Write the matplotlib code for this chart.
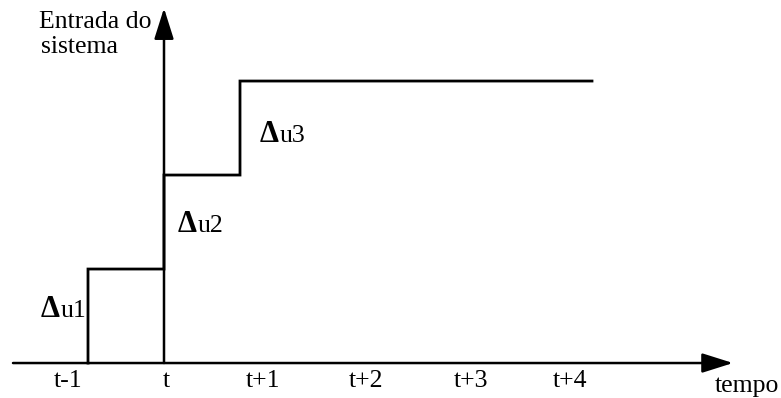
import matplotlib
matplotlib.use("Agg")
import matplotlib.pyplot as plt

# Instants on the time axis and their labels
tick_labels = ["t-1", "t", "t+1", "t+2", "t+3", "t+4"]
tick_pos = [-0.96, 0.02, 0.99, 2.02, 3.07, 4.06]

# Input staircase: switching instants and the level held after each one
step_x = [-0.76, 0.0, 0.76]
step_levels = [1, 2, 3]
step_end = 4.28

# Increment labels (symbol + name), anchored at the left baseline
delta_names = ["u1", "u2", "u3"]
delta_pos = [(-1.23, 0.489), (0.14, 1.394), (0.96, 2.351)]

plt.rcParams["font.family"] = ["Liberation Serif", "DejaVu Serif"]

FS = 18.5

fig = plt.figure(figsize=(7.81, 3.98), dpi=100)
ax = fig.add_axes([0, 0, 1, 1])
ax.set_xlim(-1.64, 6.17)
ax.set_ylim(-0.372, 3.862)
ax.axis("off")

# Staircase signal
xs = [step_x[0], step_x[0]]
ys = [0, step_levels[0]]
for i in range(1, len(step_x)):
    xs += [step_x[i], step_x[i]]
    ys += [step_levels[i - 1], step_levels[i]]
xs.append(step_end)
ys.append(step_levels[-1])
ax.plot(xs, ys, color="black", lw=2.0, solid_joinstyle="miter", zorder=3,
        snap=False)

# Axes with arrow heads
arrow = dict(arrowstyle="-|>,head_length=1.9,head_width=0.6", lw=1.8,
             color="black", mutation_scale=10, shrinkA=0, shrinkB=0,
             snap=False)
ax.annotate("", xy=(5.69, 0), xytext=(-1.51, 0), arrowprops=arrow, zorder=4)
ax.annotate("", xy=(0, 3.775), xytext=(0, 0), arrowprops=arrow, zorder=4)

# Tick labels
for p, lab in zip(tick_pos, tick_labels):
    ax.text(p, -0.191, lab, fontsize=FS, ha="center", va="center")
ax.text(5.51, -0.245, "tempo", fontsize=FS, ha="left", va="center")

# Axis title
ax.text(-1.25, 3.564, "Entrada do", fontsize=FS, ha="left", va="baseline")
ax.text(-1.23, 3.298, "sistema", fontsize=FS, ha="left", va="baseline")

# Increment annotations: a heavy delta followed by the input name
for (x, y), name in zip(delta_pos, delta_names):
    ax.text(x, y, "\u0394", fontsize=22, fontweight="bold", ha="left",
            va="baseline")
    ax.text(x + 0.195, y, name, fontsize=FS, ha="left", va="baseline")

fig.savefig("out.png", dpi=100)
